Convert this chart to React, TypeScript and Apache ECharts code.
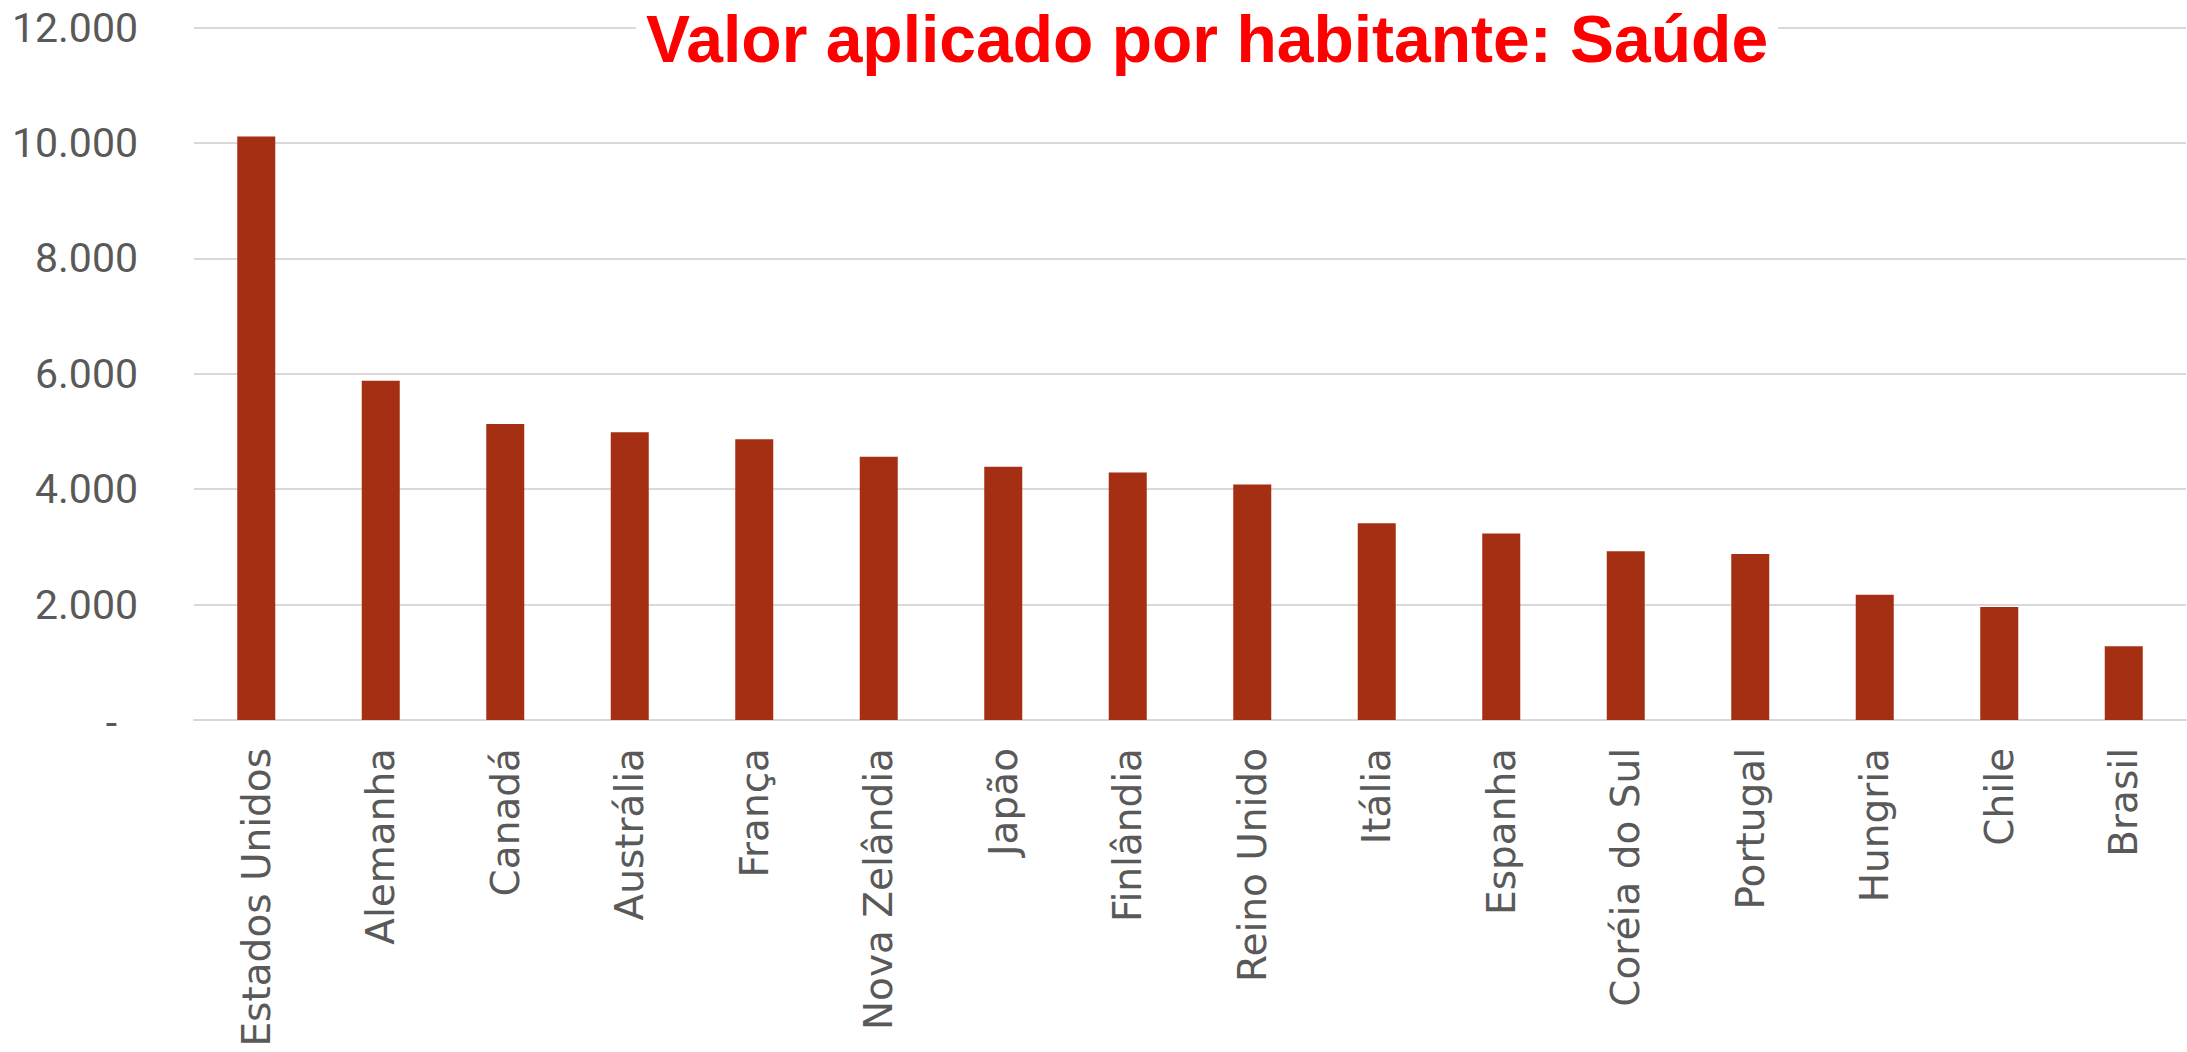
import React, { useEffect, useRef } from "react";
import * as echarts from "echarts";

const TITLE = "Valor aplicado por habitante: Saúde";

const countries = [
  "Estados Unidos",
  "Alemanha",
  "Canadá",
  "Austrália",
  "França",
  "Nova Zelândia",
  "Japão",
  "Finlândia",
  "Reino Unido",
  "Itália",
  "Espanha",
  "Coréia do Sul",
  "Portugal",
  "Hungria",
  "Chile",
  "Brasil",
];

const valuePerCapita = [
  10110, 5880, 5130, 4985, 4865, 4560, 4390, 4290, 4080, 3410, 3230, 2925,
  2875, 2170, 1960, 1280,
];

const yMin = 0;
const yMax = 12000;
const yInterval = 2000;

function formatThousands(v: number): string {
  if (v === 0) return "{z|-}";
  return String(Math.round(v)).replace(/\B(?=(\d{3})+(?!\d))/g, ".");
}

export default function App() {
  const ref = useRef<HTMLDivElement>(null);

  useEffect(() => {
    if (!ref.current) return;
    const chart = echarts.init(ref.current, null, { renderer: "svg" });
    chart.setOption({
      animation: false,
      backgroundColor: "#ffffff",
      grid: {
        left: 194,
        right: 1,
        top: 27.5,
        bottom: 332,
        containLabel: false,
      },
      graphic: [
        {
          type: "text",
          x: 1207,
          y: 39,
          z: 100,
          style: {
            text: TITLE,
            fill: "#FF0000",
            font: "bold 66px 'Liberation Sans', Arial, sans-serif",
            textAlign: "center",
            textVerticalAlign: "middle",
            backgroundColor: "#ffffff",
            padding: [4, 10, 4, 10],
          },
        },
      ],
      xAxis: {
        type: "category",
        data: countries,
        axisLine: { show: true, lineStyle: { color: "#D9D9D9", width: 2 } },
        axisTick: { show: false },
        axisLabel: {
          rotate: 90,
          interval: 0,
          margin: 28,
          color: "#595959",
          fontFamily: "'DejaVu Sans', sans-serif",
          fontSize: 39,
        },
      },
      yAxis: {
        type: "value",
        min: yMin,
        max: yMax,
        interval: yInterval,
        axisLine: { show: false },
        axisTick: { show: false },
        splitLine: { show: true, lineStyle: { color: "#D9D9D9", width: 2 } },
        axisLabel: {
          margin: 56,
          color: "#595959",
          fontFamily: "Roboto, sans-serif",
          fontSize: 41,
          formatter: (v: number) => formatThousands(v),
          rich: {
            z: {
              color: "#595959",
              fontFamily: "Roboto, sans-serif",
              fontSize: 41,
              padding: [6, 21, 0, 0],
            },
          },
        },
      },
      series: [
        {
          type: "bar",
          data: valuePerCapita,
          barWidth: 38,
          itemStyle: { color: "#A52F12" },
        },
      ],
    });
    return () => chart.dispose();
  }, []);

  return (
    <div
      ref={ref}
      style={{ position: "fixed", left: 0, top: 0, width: 2187, height: 1052 }}
    />
  );
}
